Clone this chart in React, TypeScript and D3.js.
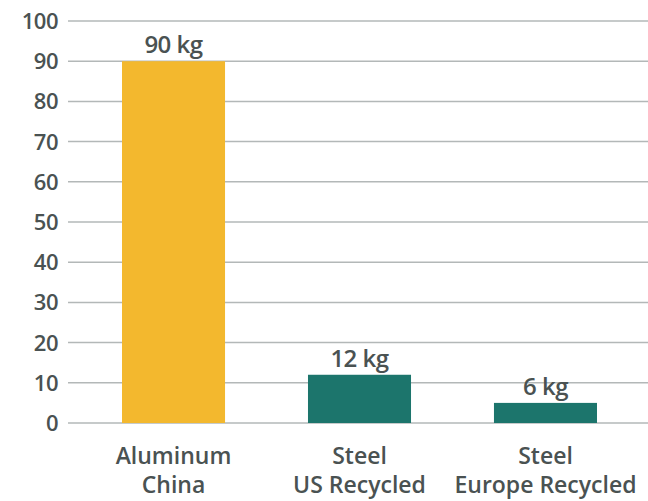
import React from "react";
import * as d3 from "d3";

const categories = ["Aluminum|China", "Steel|US Recycled", "Steel|Europe Recycled"];
const values = [90, 12, 5];
const valueLabels = ["90 kg", "12 kg", "6 kg"];
const colors = ["#F3B82E", "#1C756C", "#1C756C"];
const yTicks = [0, 10, 20, 30, 40, 50, 60, 70, 80, 90, 100];

export default function App() {
  const W = 648, H = 501;
  const y = d3.scaleLinear().domain([0, 100]).range([423, 21]);
  const x = d3.scaleBand().domain(categories).range([122, 597]).paddingInner(0.446).paddingOuter(0);
  const font = "'Open Sans', sans-serif";
  const textColor = "#4a5252";
  return (
    <svg width={W} height={H} style={{ position: "absolute", left: 0, top: 0, background: "#fff" }}>
      {yTicks.map((t) => (
        <g key={t}>
          <line x1={68} x2={648} y1={y(t)} y2={y(t)} stroke="#b3b8b8" strokeWidth={1.5} />
          <text x={58} y={y(t)} dy="0.36em" textAnchor="end" fontFamily={font} fontWeight={600} fontSize={22} letterSpacing={-0.5} fill={textColor}>{t}</text>
        </g>
      ))}
      {categories.map((c, i) => {
        const bx = x(c)!;
        const bw = x.bandwidth();
        const lines = c.split("|");
        return (
          <g key={c}>
            <rect x={bx} y={y(values[i])} width={bw} height={y(0) - y(values[i])} fill={colors[i]} />
            <text x={bx + bw / 2} y={y(values[i]) - 8} textAnchor="middle" fontFamily={font} fontWeight={600} fontSize={24} letterSpacing={-0.5} fill={textColor}>{valueLabels[i]}</text>
            {lines.map((l, j) => (
              <text key={j} x={bx + bw / 2} y={464 + j * 29} textAnchor="middle" fontFamily={font} fontWeight={600} fontSize={23} fill={textColor}>{l}</text>
            ))}
          </g>
        );
      })}
    </svg>
  );
}
